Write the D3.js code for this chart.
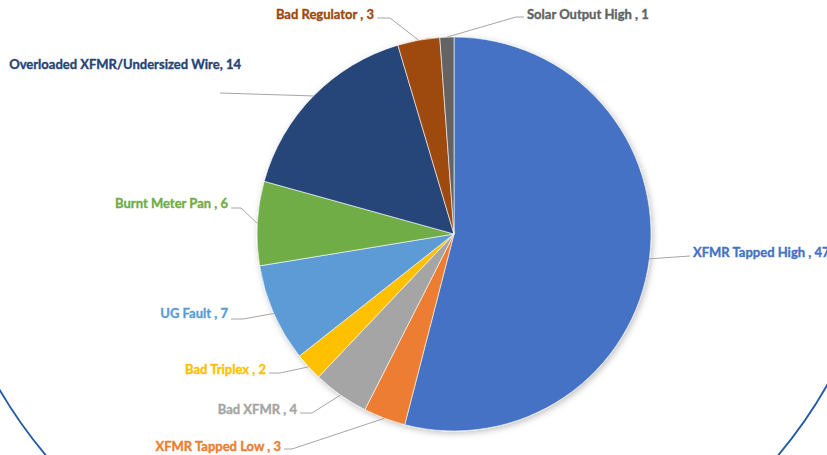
<!DOCTYPE html>
<html>
<head>
<meta charset="utf-8">
<script src="https://cdn.jsdelivr.net/npm/d3@7"></script>
<style>
  body { margin: 0; background: #fff; }
  svg { display: block; }
  .lbl { font-family: Lato, "Open Sans", sans-serif; font-weight: bold; font-size: 13px; stroke-width: 0.35px; }
</style>
</head>
<body>
<svg id="chart" width="827" height="455"></svg>
<script>
// data, clockwise from 12 o'clock
var categories = ["XFMR Tapped High", "XFMR Tapped Low", "Bad XFMR", "Bad Triplex", "UG Fault",
                  "Burnt Meter Pan", "Overloaded XFMR/Undersized Wire", "Bad Regulator", "Solar Output High"];
var values = [47, 3, 4, 2, 7, 6, 14, 3, 1];
var labelText = ["XFMR Tapped High , 47", "XFMR Tapped Low , 3", "Bad XFMR , 4", "Bad Triplex , 2", "UG Fault , 7",
                 "Burnt Meter Pan , 6", "Overloaded XFMR/Undersized Wire, 14", "Bad Regulator , 3", "Solar Output High , 1"];

var colors = ["#4472C4", "#ED7D31", "#A5A5A5", "#FFC000", "#5B9BD5", "#70AD47", "#264478", "#9E480E", "#636363"];

// label layout: elbow point of leader line, text anchor point
var labelLayout = [
  {ex: 690, ey: 256, tx: 693, ty: 257, anchor: "start", elbow: false},
  {ex: 292, ey: 449, tx: 281, ty: 451, anchor: "end", elbow: true},
  {ex: 312, ey: 413, tx: 297, ty: 414, anchor: "end", elbow: true},
  {ex: 280, ey: 373, tx: 266, ty: 374, anchor: "end", elbow: true},
  {ex: 243, ey: 319, tx: 228, ty: 318, anchor: "end", elbow: true},
  {ex: 241, ey: 208, tx: 228, ty: 208, anchor: "end", elbow: true},
  {ex: 220, ey: 93, tx: 241, ty: 69, anchor: "end", elbow: false},
  {ex: 390, ey: 18, tx: 374, ty: 19, anchor: "end", elbow: true},
  {ex: 516, ey: 17, tx: 527, ty: 19, anchor: "start", elbow: true}
];

var cx = 454, cy = 234, r = 197;
var svg = d3.select("#chart");

// decorative slide border
svg.append("circle")
  .attr("cx", 412).attr("cy", 148).attr("r", 478)
  .attr("fill", "none")
  .attr("stroke", "#1f5aa6")
  .attr("stroke-width", 1.8);

var defs = svg.append("defs");
var f = defs.append("filter").attr("id", "shadow")
  .attr("x", "-10%").attr("y", "-10%").attr("width", "120%").attr("height", "120%");
f.append("feDropShadow").attr("dx", 1.5).attr("dy", 2).attr("stdDeviation", 3)
  .attr("flood-color", "#000").attr("flood-opacity", 0.25);

var pie = d3.pie().sort(null).value(d => d);
var arcs = pie(values);
var arc = d3.arc().innerRadius(0).outerRadius(r);

var g = svg.append("g").attr("transform", `translate(${cx},${cy})`);
g.append("g").attr("filter", "url(#shadow)")
  .selectAll("path")
  .data(arcs)
  .join("path")
  .attr("d", arc)
  .attr("fill", (d, i) => colors[i])
  .attr("stroke", "#fff")
  .attr("stroke-width", 0.6);

// leader lines
var edge = d => {
  var a = (d.startAngle + d.endAngle) / 2;
  return [cx + r * Math.sin(a), cy - r * Math.cos(a)];
};

svg.append("g").selectAll("polyline")
  .data(arcs)
  .join("polyline")
  .attr("points", (d, i) => {
    var L = labelLayout[i], p = edge(d);
    var pts = [p, [L.ex, L.ey]];
    if (L.elbow) pts.push([L.anchor === "end" ? L.tx + 3 : L.tx - 3, L.ey]);
    return pts.map(q => q.join(",")).join(" ");
  })
  .attr("fill", "none")
  .attr("stroke", "#a6a6a6")
  .attr("stroke-width", 1);

svg.append("g").selectAll("text")
  .data(arcs)
  .join("text")
  .attr("class", "lbl")
  .attr("x", (d, i) => labelLayout[i].tx)
  .attr("y", (d, i) => labelLayout[i].ty)
  .attr("text-anchor", (d, i) => labelLayout[i].anchor)
  .attr("fill", (d, i) => colors[i])
  .attr("stroke", (d, i) => colors[i])
  .text((d, i) => labelText[i]);
</script>
</body>
</html>
